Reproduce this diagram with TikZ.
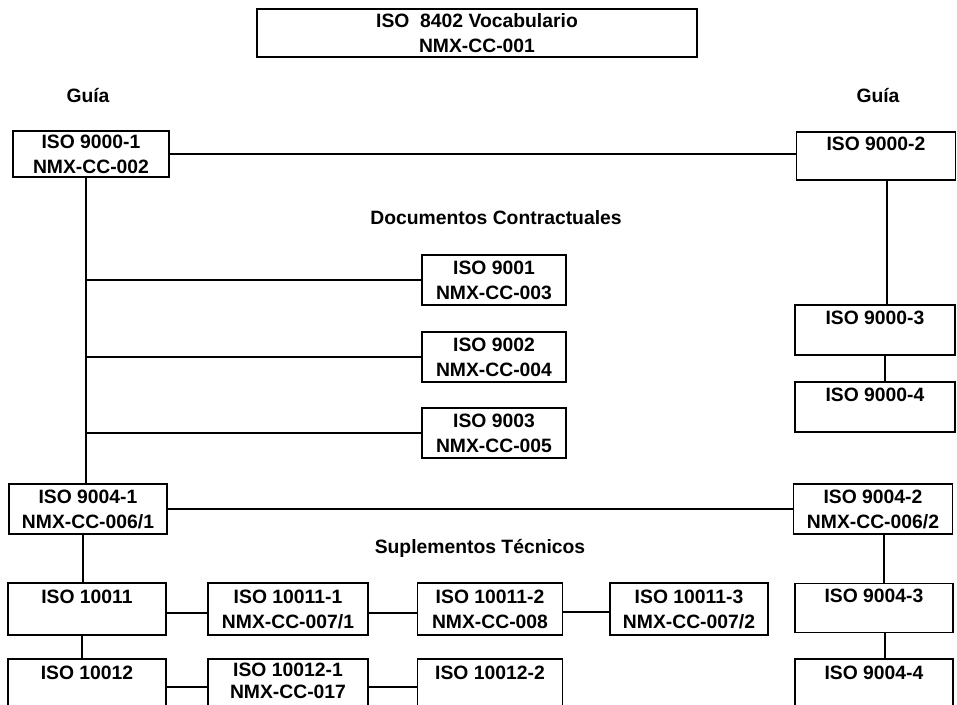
\documentclass[tikz,border=0pt]{standalone}
\usepackage{fontspec}
\setmainfont{Liberation Sans}
\usepackage{tikz}
\usetikzlibrary{positioning}

\begin{document}
\begin{tikzpicture}[x=0.02cm,y=-0.02cm,line width=1pt,
    norma/.style={draw,line width=0.9pt,align=center,inner sep=0pt,
      minimum height=1cm,font=\fontsize{11}{14.2}\selectfont\bfseries},
    rotulo/.style={font=\fontsize{11}{13}\selectfont\bfseries}]
    \useasboundingbox (0,0) rectangle (957,705);
    \clip (0,0) rectangle (957,705);

    % Vocabulario
    \node[norma,minimum width=8.8cm,minimum height=0.96cm] (voc) at (477,33)
      {ISO\ \ 8402 Vocabulario\\NMX-CC-001};

    % Guias
    \node[rotulo] (guiaI) at (88,96) {Guía};
    \node[rotulo] (guiaD) at (878,96) {Guía};
    \node[norma,minimum width=3.12cm,minimum height=0.92cm] (g1) at (91,154)
      {ISO 9000-1\\NMX-CC-002};
    \node[norma,minimum width=3.18cm,minimum height=0.96cm] (g2) at (876,156)
      {ISO 9000-2\\\mbox{}};
    \node[norma,minimum width=3.2cm] (g3) at (875,330) {ISO 9000-3\\\mbox{}};
    \node[norma,minimum width=3.2cm] (g4) at (875,407) {ISO 9000-4\\\mbox{}};

    % Documentos contractuales
    \node[rotulo] (contr) at (496,218) {Documentos Contractuales};
    \node[norma,minimum width=2.88cm] (c1) at (494,280) {ISO 9001\\NMX-CC-003};
    \node[norma,minimum width=2.88cm] (c2) at (494,357) {ISO 9002\\NMX-CC-004};
    \node[norma,minimum width=2.88cm] (c3) at (494,433) {ISO 9003\\NMX-CC-005};

    % Gestion de la calidad
    \node[norma,minimum width=3.16cm] (s1) at (88,509) {ISO 9004-1\\NMX-CC-006/1};
    \node[norma,minimum width=3.18cm] (s2) at (873,509) {ISO 9004-2\\NMX-CC-006/2};
    \node[norma,minimum width=3.16cm,minimum height=0.98cm] (s3) at (874,608)
      {ISO 9004-3\\\mbox{}};
    \node[norma,minimum width=3.16cm,minimum height=1.04cm] (s4) at (874,685)
      {ISO 9004-4\\\mbox{}};

    % Suplementos tecnicos
    \node[rotulo] (supl) at (480,548) {Suplementos Técnicos};
    \node[norma,minimum width=3.16cm,minimum height=1.04cm] (t0) at (87,609)
      {ISO 10011\\\mbox{}};
    \node[norma,minimum width=3.2cm,minimum height=1.04cm] (t1) at (288,609)
      {ISO 10011-1\\NMX-CC-007/1};
    \node[norma,minimum width=2.9cm,minimum height=1.04cm] (t2) at (490,609)
      {ISO 10011-2\\NMX-CC-008};
    \node[norma,minimum width=3.16cm,minimum height=1.04cm] (t3) at (689,609)
      {ISO 10011-3\\NMX-CC-007/2};
    \node[norma,minimum width=3.16cm,minimum height=1.04cm] (m0) at (87,685)
      {ISO 10012\\\mbox{}};
    \node[norma,minimum width=3.2cm,minimum height=1.04cm,
      font=\fontsize{11}{12.5}\selectfont\bfseries] (m1) at (288,685)
      {ISO 10012-1\\NMX-CC-017\\[-7.5pt]\mbox{}};
    \node[norma,minimum width=2.9cm,minimum height=1.04cm] (m2) at (490,685)
      {ISO 10012-2\\\mbox{}};

    % conexiones
    \coordinate (eje) at ([xshift=-0.1cm]g1.south);
    \draw (g1.east) -- (g2.west |- g1.east);
    \draw (eje) -- (eje |- s1.north);
    \foreach \c in {c1,c2,c3}
      \draw (\c.west) -- (\c.west -| eje);
    \draw ([xshift=0.22cm]g2.south) -- ([xshift=0.22cm]g2.south |- g3.north);
    \draw ([xshift=0.2cm]g3.south) -- ([xshift=0.2cm]g3.south |- g4.north);
    \draw (s1.east) -- (s2.west |- s1.east);
    \draw ([xshift=-0.1cm]s1.south) -- ([xshift=-0.1cm]s1.south |- t0.north);
    \draw ([xshift=0.22cm]s2.south) -- ([xshift=0.22cm]s2.south |- s3.north);
    \draw ([xshift=0.22cm]s3.south) -- ([xshift=0.22cm]s3.south |- s4.north);
    \draw ([xshift=-0.1cm]t0.south) -- ([xshift=-0.1cm]t0.south |- m0.north);
    \draw ([yshift=-0.08cm]t0.east) -- ([yshift=-0.08cm]t1.west);
    \draw ([yshift=-0.08cm]t1.east) -- ([yshift=-0.08cm]t2.west);
    \draw ([yshift=-0.06cm]t2.east) -- ([yshift=-0.06cm]t3.west);
    \draw ([yshift=-0.04cm]m0.east) -- ([yshift=-0.04cm]m1.west);
    \draw ([yshift=-0.04cm]m1.east) -- ([yshift=-0.04cm]m2.west);
  \end{tikzpicture}
\end{document}
